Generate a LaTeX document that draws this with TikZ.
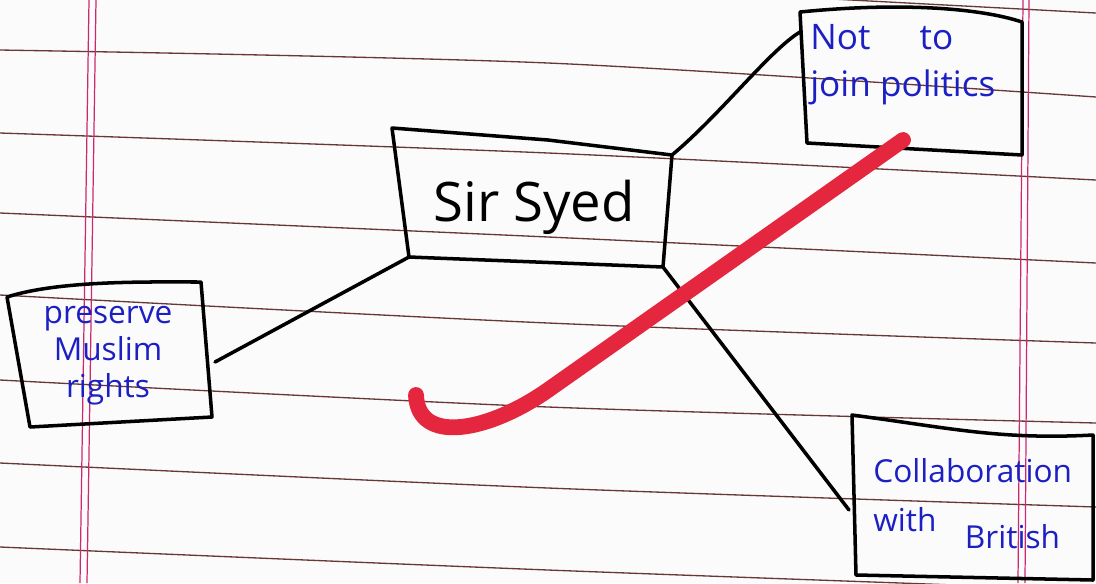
\documentclass[tikz,border=0pt]{standalone}
\usepackage{fontspec}
\setmainfont{Open Sans}
\usetikzlibrary{positioning}
\definecolor{rulebrown}{RGB}{105,55,55}
\definecolor{marginpink}{RGB}{205,40,110}
\definecolor{inkblue}{RGB}{28,32,195}
\definecolor{tickred}{RGB}{228,38,62}
\definecolor{paper}{RGB}{251,251,251}

\begin{document}
\begin{tikzpicture}[x=0.02cm, y=-0.02cm,
          rule/.style={draw=rulebrown, line width=0.75pt},
          margin/.style={draw=marginpink, line width=0.7pt},
          pen/.style={draw=black, line width=2pt, line join=round,
                      line cap=round},
          ink/.style={text=inkblue, inner sep=0pt, align=left,
                      font=\fontsize{20}{27}\selectfont},
          tick/.style={draw=tickred, line width=9pt, line cap=round},
        ]
          \fill[paper] (0,0) rectangle (1096,583);
          \useasboundingbox (0,0) rectangle (1096,583);

          % ruled lines of the page
          \draw[rule] (700,-8) -- (1096,13);
          \foreach \ya/\yb/\yc in {50/63/97, 133/153/180, 213/237/263,
                                   295/323/343, 380/407/423, 463/488/507,
                                   547/570/590}
            \draw[rule] plot[smooth] coordinates {(0,\ya) (548,\yb) (1096,\yc)};

          % margins
          \draw[margin] (89,0) -- (80,583);
          \draw[margin] (96,0) -- (87,583);
          \draw[margin] (1023,0) -- (1018,583);
          \draw[margin] (1029,0) -- (1025,583);

          % box corners
          \coordinate (syed-tl) at (392,128);
          \coordinate (syed-tr) at (672,155);
          \coordinate (syed-br) at (663,267);
          \coordinate (syed-bl) at (409,257);

          \coordinate (pol-tl) at (800,12);
          \coordinate (pol-tr) at (1022,22);
          \coordinate (pol-br) at (1022,155);
          \coordinate (pol-bl) at (807,143);
          \coordinate (pol-in) at (800,32);

          \coordinate (mus-tl) at (7,297);
          \coordinate (mus-tr) at (201,282);
          \coordinate (mus-br) at (212,417);
          \coordinate (mus-bl) at (30,427);
          \coordinate (mus-in) at (215,362);

          \coordinate (brit-tl) at (852,415);
          \coordinate (brit-tr) at (1093,435);
          \coordinate (brit-br) at (1093,580);
          \coordinate (brit-bl) at (856,575);
          \coordinate (brit-in) at (849,510);

          % boxes
          \draw[pen] (syed-tl) -- (548,140) -- (syed-tr) -- (syed-br)
                     -- (syed-bl) -- cycle;
          \draw[pen] (pol-tl) .. controls (900,2) and (980,8) .. (pol-tr)
                     -- (pol-br) -- (pol-bl) -- cycle;
          \draw[pen] (mus-tl) .. controls (60,280) and (150,282) .. (mus-tr)
                     -- (mus-br) -- (mus-bl) -- cycle;
          \draw[pen] (brit-tl) .. controls (950,428) and (1000,440) .. (brit-tr)
                     -- (brit-br) -- (brit-bl) -- cycle;

          % texts
          \node[font=\fontsize{31}{31}\selectfont] (syed) at (534,207) {Sir Syed};
          \node[ink, anchor=north west] (pol) at (810,24) {Not\hspace{1.4em}to\\join politics};
          \node[ink, align=center, font=\fontsize{18}{21}\selectfont] (mus) at (108,356)
               {preserve\\Muslim\\rights};
          \node[ink, anchor=north west, font=\fontsize{18}{28}\selectfont] (brit) at (873,458)
               {Collaboration\\with\hspace{0.9em}\raisebox{-0.55em}{British}};

          % connectors
          \draw[pen] (syed-tr) .. controls (720,115) and (770,50) .. (pol-in);
          \draw[pen] (syed-bl) -- (mus-in);
          \draw[pen] (syed-br) -- (brit-in);

          % check mark
          \draw[tick] (416,395) .. controls (418,445) and (488,432) .. (548,390)
                      -- (903,140);
        \end{tikzpicture}
\end{document}
